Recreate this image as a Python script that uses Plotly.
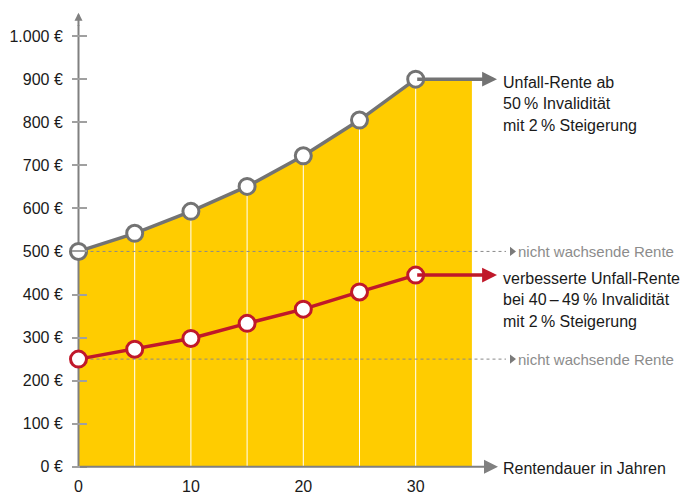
import plotly.graph_objects as go

# ---- data ----
years = [0, 5, 10, 15, 20, 25, 30]
rente_50 = [500, 542, 593, 651, 722, 805, 900]
rente_40 = [250, 273, 298, 333, 366, 406, 445]
fill_end_year = 35
flat_50 = 500
flat_40 = 250
y_tick_vals = [0, 100, 200, 300, 400, 500, 600, 700, 800, 900, 1000]
y_tick_text = ["0 €", "100 €", "200 €", "300 €", "400 €", "500 €",
               "600 €", "700 €", "800 €", "900 €", "1.000 €"]
x_tick_vals = [0, 10, 20, 30]
x_tick_text = ["0", "10", "20", "30"]
label_50 = ["Unfall-Rente ab", "50\u2009% Invalidität", "mit 2\u2009% Steigerung"]
label_40 = ["verbesserte Unfall-Rente", "bei 40\u2009–\u200949\u2009% Invalidität",
            "mit 2\u2009% Steigerung"]
label_flat = "nicht wachsende Rente"
label_x = "Rentendauer in Jahren"

# ---- styling / geometry (screen pixels) ----
W, H = 682, 495
X0PX, XS = 78.5, 11.24     # pixel of year 0, pixels per year
Y0PX, YS = 468.7, 0.4325   # pixel of 0 €, pixels per €
FONT = "Liberation Sans, Arial, sans-serif"
YELLOW = "#FFCC00"
GREY = "#737373"
RED = "#C0182A"
LIGHTGREY = "#8C8C8C"
AXIS = "#808080"
TXT = "#1a1a1a"

def px2x(p):  # screen pixel -> year
    return (p - X0PX) / XS

x_range = [-X0PX / XS, (W - X0PX) / XS]
y_range = [-(H - Y0PX) / YS, Y0PX / YS]

arrow_tip_x = px2x(498)
curve_tip_x = px2x(497)
flat_line_end = px2x(506)
flat_tip_x = px2x(512)
text_x = px2x(501)
flat_text_x = px2x(516)
y_axis_tip = 1054
y_axis_arrow_start = 1020

fig = go.Figure()

# yellow area under the upper curve, extended flat to fill_end_year
fig.add_trace(go.Scatter(
    x=years + [fill_end_year], y=rente_50 + [rente_50[-1]],
    mode="lines", line=dict(width=0), fill="tozeroy", fillcolor=YELLOW,
    hoverinfo="skip", showlegend=False))

# thin white verticals at each marker year
vx, vy = [], []
for yr, v in zip(years[1:], rente_50[1:]):
    vx += [yr, yr, None]
    vy += [0, v, None]
fig.add_trace(go.Scatter(x=vx, y=vy, mode="lines",
                         line=dict(color="white", width=1),
                         hoverinfo="skip", showlegend=False))

# vertical axis line (below the markers)
fig.add_trace(go.Scatter(x=[0, 0], y=[0, y_axis_arrow_start + 5], mode="lines",
                         line=dict(color=AXIS, width=2),
                         hoverinfo="skip", showlegend=False))

# dotted "nicht wachsende Rente" lines
for lvl in (flat_50, flat_40):
    fig.add_trace(go.Scatter(x=[0, flat_line_end], y=[lvl, lvl], mode="lines",
                             line=dict(color="#8A8A8A", width=1, dash="dot"),
                             hoverinfo="skip", showlegend=False))
    fig.add_trace(go.Scatter(x=[flat_tip_x], y=[lvl], mode="markers",
                             marker=dict(symbol="triangle-right", size=8,
                                         color="#7A7A7A"),
                             cliponaxis=False,
                             hoverinfo="skip", showlegend=False))

annotations = []
def arrow(x0, y0, x1, y1, color, width, size):
    annotations.append(dict(x=x1, y=y1, ax=x0, ay=y0, xref="x", yref="y",
                            axref="x", ayref="y", text="", showarrow=True,
                            arrowhead=2, arrowwidth=width, arrowsize=size,
                            arrowcolor=color, standoff=0, startstandoff=0))

# axis arrowheads
arrow(0, y_axis_arrow_start, 0, y_axis_tip, AXIS, 2, 0.8)
arrow(0, 0, arrow_tip_x, 0, AXIS, 2, 1.4)
# flat continuations with arrows
arrow(years[-1], rente_50[-1], curve_tip_x, rente_50[-1], GREY, 3.5, 0.85)
arrow(years[-1], rente_40[-1], curve_tip_x, rente_40[-1], RED, 3.5, 0.85)

# curves
fig.add_trace(go.Scatter(x=years, y=rente_50, mode="lines+markers",
                         line=dict(color=GREY, width=3.5),
                         marker=dict(size=16, color="white",
                                     line=dict(color=GREY, width=3)),
                         cliponaxis=False, hoverinfo="skip", showlegend=False))
fig.add_trace(go.Scatter(x=years, y=rente_40, mode="lines+markers",
                         line=dict(color=RED, width=3.5),
                         marker=dict(size=16, color="white",
                                     line=dict(color=RED, width=3)),
                         cliponaxis=False, hoverinfo="skip", showlegend=False))

LINE_GAP = 21.5
def text_block(lines, y, size, color):
    for i, t in enumerate(lines):
        annotations.append(dict(x=text_x, y=y, xref="x", yref="y", text=t,
                                showarrow=False, xanchor="left", yanchor="middle",
                                yshift=-3 - i * LINE_GAP,
                                font=dict(family=FONT, size=size, color=color)))

text_block(label_50, rente_50[-1], 16, TXT)
text_block(label_40, rente_40[-1], 16, TXT)
for lvl in (flat_50, flat_40):
    annotations.append(dict(x=flat_text_x, y=lvl, xref="x", yref="y", text=label_flat,
                            showarrow=False, xanchor="left", yanchor="middle",
                            yshift=-0.5,
                            font=dict(family=FONT, size=15, color=LIGHTGREY)))
annotations.append(dict(x=text_x, y=0, xref="x", yref="y", text=label_x,
                        showarrow=False, xanchor="left", yanchor="middle",
                        yshift=-1.5,
                        font=dict(family=FONT, size=16, color=TXT)))

fig.update_layout(
    width=W, height=H, margin=dict(l=0, r=0, t=0, b=0),
    paper_bgcolor="white", plot_bgcolor="white",
    showlegend=False, annotations=annotations,
    font=dict(family=FONT, size=16, color=TXT),
    xaxis=dict(range=x_range, showgrid=False, zeroline=False, showline=False,
               tickmode="array", tickvals=x_tick_vals, ticktext=x_tick_text,
               ticks="", anchor="free", position=(H - Y0PX) / H,
               ticklabelstandoff=8, tickfont=dict(family=FONT, size=16, color=TXT)),
    yaxis=dict(range=y_range, showgrid=False, zeroline=False, showline=False,
               tickmode="array", tickvals=y_tick_vals, ticktext=y_tick_text,
               ticks="outside", ticklen=15, tickwidth=1.5, tickcolor="#A0A0A0",
               anchor="free", position=(X0PX + 8.5) / W,
               ticklabelstandoff=6, tickfont=dict(family=FONT, size=16, color=TXT)),
)

# remove the default 8px page margin so the 682x495 figure fills the window exactly
fig.write_html("out.html", config={"displayModeBar": False},
               post_script="document.body.style.margin='0';")
